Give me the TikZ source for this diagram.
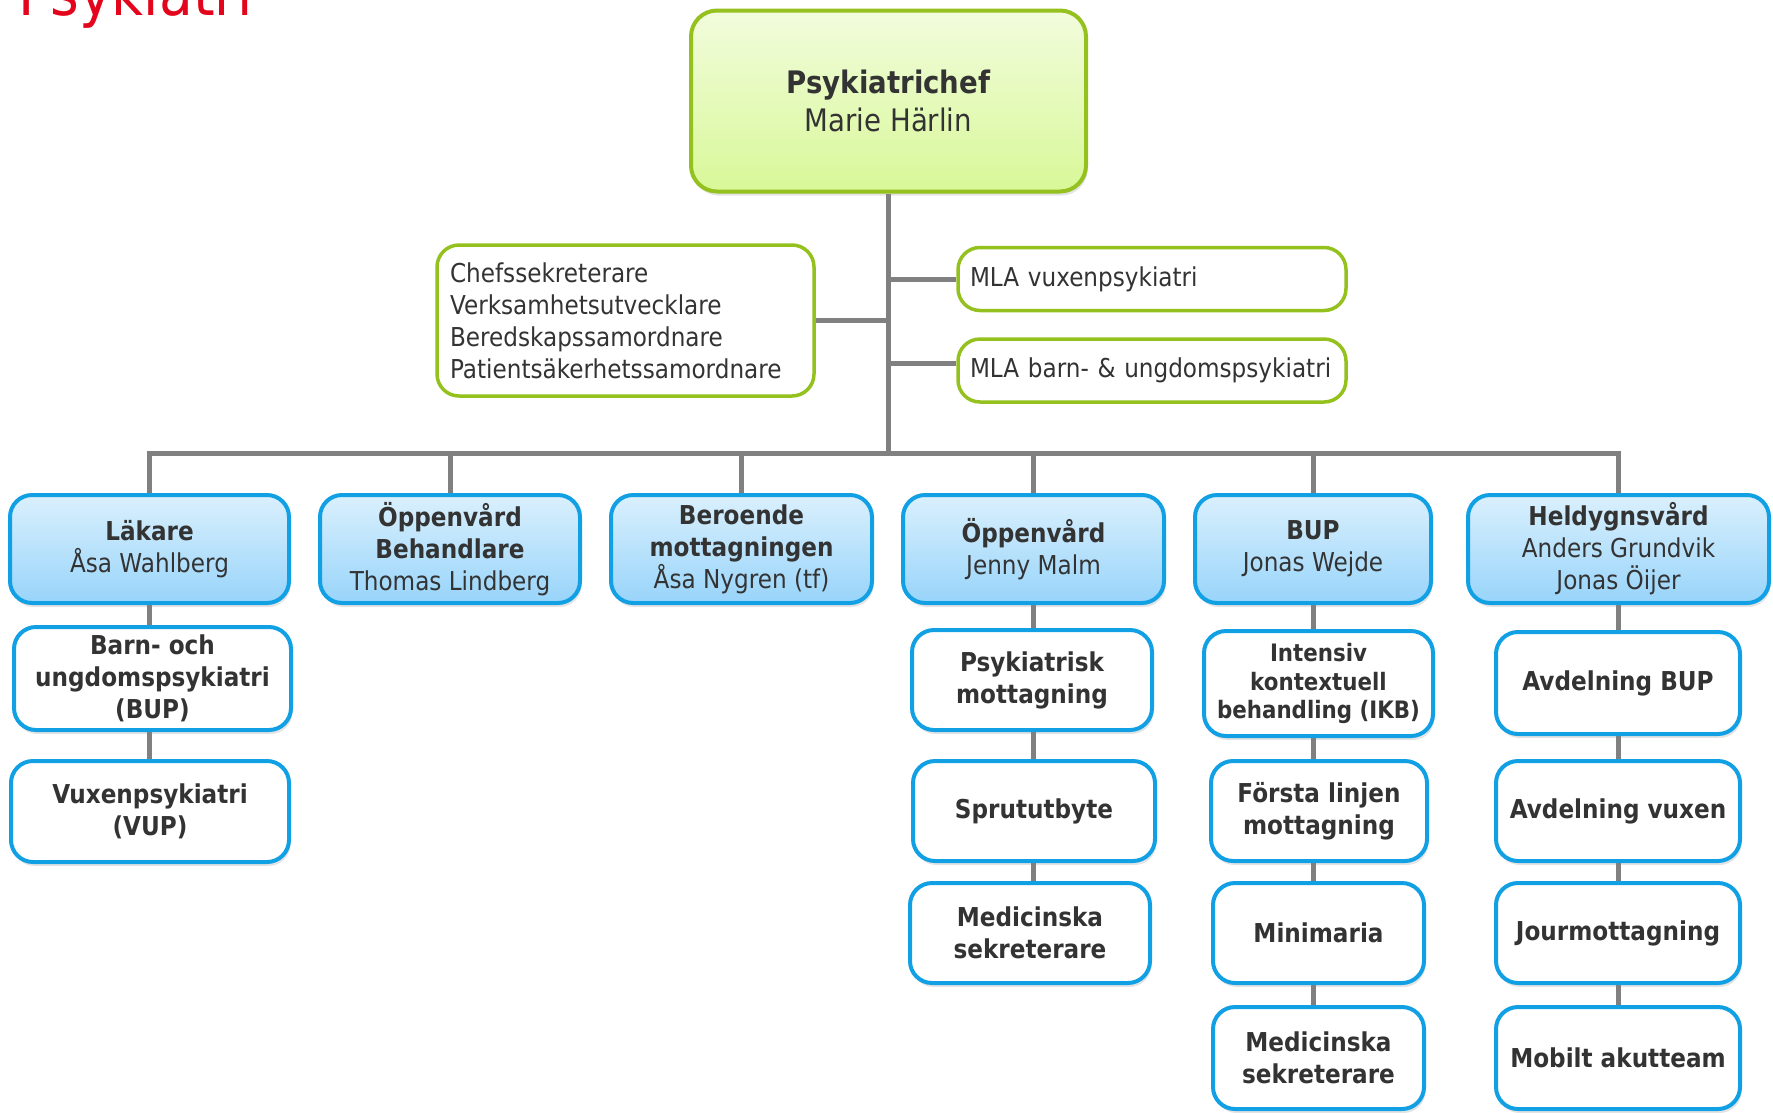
\documentclass[tikz,border=0pt]{standalone}
\usepackage{fontspec}
\setmainfont{DejaVu Sans}[FakeStretch=0.89]
\usetikzlibrary{shadows,backgrounds}
\definecolor{txtgray}{HTML}{333333}
\definecolor{linegray}{HTML}{808080}
\definecolor{chiefgreen}{HTML}{95C11F}
\definecolor{chieftop}{HTML}{F2FCDD}
\definecolor{chiefbot}{HTML}{D8F898}
\definecolor{unitblue}{HTML}{12A0E4}
\definecolor{unittop}{HTML}{DAF0FD}
\definecolor{unitbot}{HTML}{98D4FA}
\definecolor{titlered}{HTML}{E3051B}
\begin{document}
\begin{tikzpicture}[x=1pt, y=-1pt,
  boxshadow/.style={drop shadow={shadow xshift=1.5pt, shadow yshift=-4pt, opacity=0.22}},
  chiefbox/.style={draw=chiefgreen, line width=4pt, rounded corners=26pt, top color=chieftop, bottom color=chiefbot,
    minimum width=395pt, minimum height=181pt, boxshadow, align=center, text=txtgray, font=\fontsize{31}{38}\selectfont},
  staffbox/.style={draw=chiefgreen, line width=3.5pt, rounded corners=22pt, fill=white, align=left, text=txtgray,
    font=\fontsize{26}{32}\selectfont, inner sep=0pt},
  unitbox/.style={draw=unitblue, line width=4pt, rounded corners=22pt, top color=unittop, bottom color=unitbot,
    minimum height=108pt, boxshadow, align=center, text=txtgray, font=\fontsize{26}{32}\selectfont, inner sep=0pt},
  subbox/.style={draw=unitblue, line width=4pt, rounded corners=22pt, fill=white, minimum height=100pt, boxshadow,
    align=center, text=txtgray, font=\bfseries\fontsize{26}{32}\selectfont, inner sep=0pt},
  link/.style={draw=linegray, line width=5pt}]
  \useasboundingbox (0,0) rectangle (1773,1112);
  % Title
  \node[text=titlered, font=\fontsize{62}{70}\selectfont, anchor=base west, inner sep=0pt] (title) at (18,15) {Psykiatri};
  % Head and staff
  \node[chiefbox] (chief) at (888.5,101) {\textbf{Psykiatrichef}\\Marie Härlin};
  \node[staffbox, minimum width=377pt, minimum height=151pt, text width=351pt] (staff) at (625.5,320.5)
    {Chefssekreterare\\Verksamhetsutvecklare\\Beredskapssamordnare\\Patientsäkerhetssamordnare};
  \node[staffbox, minimum width=388pt, minimum height=63pt, text width=364pt] (mlavux) at (1152,279) {MLA vuxenpsykiatri};
  \node[staffbox, minimum width=388pt, minimum height=63pt, text width=364pt] (mlabup) at (1152,370.5) {MLA barn- \& ungdomspsykiatri};
  % Units
  \node[unitbox, minimum width=279pt] (lakare) at (149.5,549) {\textbf{Läkare}\\Åsa Wahlberg};
  \node[unitbox, minimum width=260pt] (behandlare) at (450,549) {\textbf{Öppenvård}\\\textbf{Behandlare}\\Thomas Lindberg};
  \node[unitbox, minimum width=261pt] (beroende) at (741.5,549) {\textbf{Beroende}\\\textbf{mottagningen}\\Åsa Nygren (tf)};
  \node[unitbox, minimum width=261pt] (oppen) at (1033.5,549) {\textbf{Öppenvård}\\Jenny Malm};
  \node[unitbox, minimum width=236pt] (bup) at (1313,549) {\textbf{BUP}\\Jonas Wejde};
  \node[unitbox, minimum width=301pt] (heldygn) at (1618.5,549) {\textbf{Heldygnsvård}\\Anders Grundvik\\Jonas Öijer};
  % Läkare column
  \node[subbox, minimum width=277pt, minimum height=103pt] (barnsub) at (152.5,678.5) {Barn- och\\ungdomspsykiatri\\(BUP)};
  \node[subbox, minimum width=278pt, minimum height=101pt] (vupsub) at (150,811.5) {Vuxenpsykiatri\\(VUP)};
  % Öppenvård column
  \node[subbox, minimum width=240pt] (psykmott) at (1032,680) {Psykiatrisk\\mottagning};
  \node[subbox, minimum width=242pt] (sprut) at (1034,811) {Sprututbyte};
  \node[subbox, minimum width=240pt] (medsekopp) at (1030,933) {Medicinska\\sekreterare};
  % BUP column
  \node[subbox, minimum width=229pt, minimum height=105pt, font=\bfseries\fontsize{24}{28.5}\selectfont] (ikb) at (1318.5,683.5)
    {Intensiv\\kontextuell\\behandling (IKB)};
  \node[subbox, minimum width=216pt] (forsta) at (1319,811) {Första linjen\\mottagning};
  \node[subbox, minimum width=211pt] (minimaria) at (1318.5,933) {Minimaria};
  \node[subbox, minimum width=211pt, minimum height=102pt] (medsekbup) at (1318.5,1058) {Medicinska\\sekreterare};
  % Heldygnsvård column
  \node[subbox, minimum width=244pt, minimum height=102pt] (avdbup) at (1618,683) {Avdelning BUP};
  \node[subbox, minimum width=244pt] (avdvux) at (1618,811) {Avdelning vuxen};
  \node[subbox, minimum width=244pt] (jour) at (1618,933) {Jourmottagning};
  \node[subbox, minimum width=244pt, minimum height=102pt] (mobilt) at (1618,1058) {Mobilt akutteam};
  % Connectors
  \begin{scope}[on background layer]
    \coordinate (bus) at (888.5,453);
    \draw[link] (chief.south) -- (bus);
    \draw[link] (lakare.north) -- (bus -| lakare.north) -- (bus -| heldygn.north) -- (heldygn.north);
    \foreach \unit in {behandlare,beroende,oppen,bup}
      \draw[link] (\unit.north) -- (bus -| \unit.north);
    \draw[link] (staff.east) -- (staff.east -| bus);
    \draw[link] (mlavux.west) -- (mlavux.west -| bus);
    \draw[link] ([yshift=7pt]mlabup.west) -- ([yshift=7pt]mlabup.west -| bus);
    \draw[link] (lakare.south) -- (lakare.south |- vupsub.north);
    \draw[link] (oppen.south) -- (oppen.south |- medsekopp.north);
    \draw[link] (bup.south) -- (bup.south |- medsekbup.north);
    \draw[link] (heldygn.south) -- (heldygn.south |- mobilt.north);
  \end{scope}
\end{tikzpicture}
\end{document}
